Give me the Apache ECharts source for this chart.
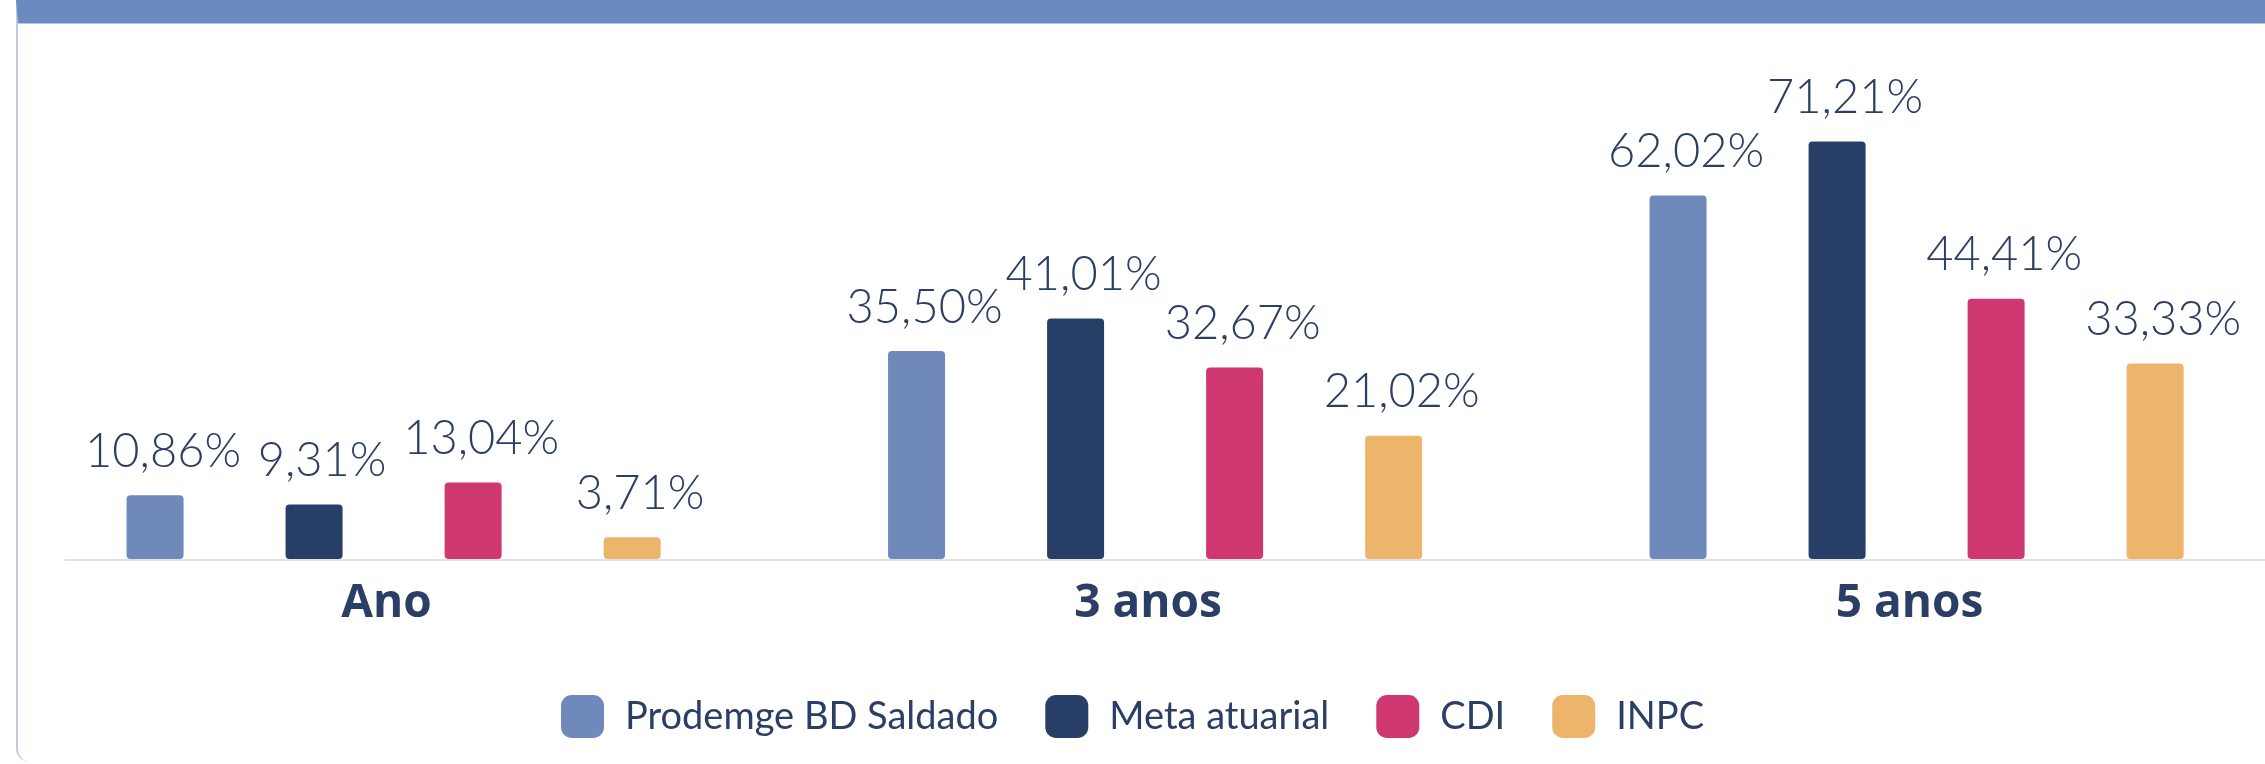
<!DOCTYPE html>
<html>
<head>
<meta charset="utf-8">
<script src="https://cdn.jsdelivr.net/npm/echarts@6/dist/echarts.min.js"></script>
<style>
	html,body{margin:0;padding:0;background:#fff;width:2265px;height:764px;overflow:hidden;}
	#card{position:absolute;left:16px;top:0;width:2300px;height:762px;border-top:23px solid #6a8bc0;border-left:2px solid #c4c9d7;border-bottom-left-radius:14px;box-sizing:border-box;}
	#card:before{content:'';position:absolute;left:0;right:0;top:0;height:1px;background:#b7c6df;}
	/* o grafico passa da borda direita, como no original */
	#chart{position:absolute;left:0;top:0;width:2320px;height:764px;}
</style>
</head>
<body>
<div id="card"></div>
<div id="chart"></div>
<script>
// periodos e rentabilidades (%)
let categories = ['Ano','3 anos','5 anos'];
let seriesNames = ['Prodemge BD Saldado','Meta atuarial','CDI','INPC'];
let prodemge = [10.86, 35.50, 62.02];
let meta = [9.31, 41.01, 71.21];
let cdi = [13.04, 32.67, 44.41];
let inpc = [3.71, 21.02, 33.33];

let colors = ['#7089bb','#273e67','#ce3770','#edb46c'];
let textColor = '#2b3e66';

let myChart = echarts.init(document.getElementById('chart'),null,{renderer:'canvas'});

let fmt = function(params){
	return params.value.toFixed(2).replace('.',',')+'%';
};

let makeSeries = function(name,data,idx){
	return {
		name:name,
		type:'bar',
		data:data,
		xAxisIndex:0,
		yAxisIndex:0,
		barWidth:57,
		barGap:'179%',
		itemStyle:{color:colors[idx],borderRadius:4},
		label:{
			show:true,
			position:'top',
			distance:20,
			offset:[8,0],
			formatter:fmt,
			color:textColor,
			fontFamily:'Lato',
			fontWeight:300,
			fontSize:47
		}
	};
};

let option = {
	animation:false,
	color:colors,
	legend:{
		left:556,
		top:690,
		itemWidth:43,
		itemHeight:43,
		itemGap:47,
		icon:'roundRect',
		textStyle:{color:textColor,fontFamily:'Lato',fontSize:38,padding:[0,0,0,16]},
		data:seriesNames
	},
	grid:[
		{left:12.85,width:2284.5,top:90,bottom:205,containLabel:false},
		{left:65,right:0,top:90,bottom:204,containLabel:false}
	],
	xAxis:[
		{
			type:'category',
			gridIndex:0,
			data:categories,
			axisLine:{show:false},
			axisTick:{show:false},
			axisLabel:{
				margin:22,
				color:textColor,
				fontFamily:'Open Sans',
				fontWeight:'bold',
				fontSize:46,
				padding:[0,14,0,0]
			}
		},
		{
			type:'category',
			gridIndex:1,
			data:categories,
			axisLine:{show:true,lineStyle:{color:'#e2e2e2',width:2}},
			axisTick:{show:false},
			axisLabel:{show:false}
		}
	],
	yAxis:[
		{type:'value',gridIndex:0,min:0,max:80,show:false,splitLine:{show:false}},
		{type:'value',gridIndex:1,min:0,max:80,show:false,splitLine:{show:false}}
	],
	series:[
		makeSeries(seriesNames[0],prodemge,0),
		makeSeries(seriesNames[1],meta,1),
		makeSeries(seriesNames[2],cdi,2),
		makeSeries(seriesNames[3],inpc,3)
	]
};

myChart.setOption(option);
</script>
</body>
</html>
